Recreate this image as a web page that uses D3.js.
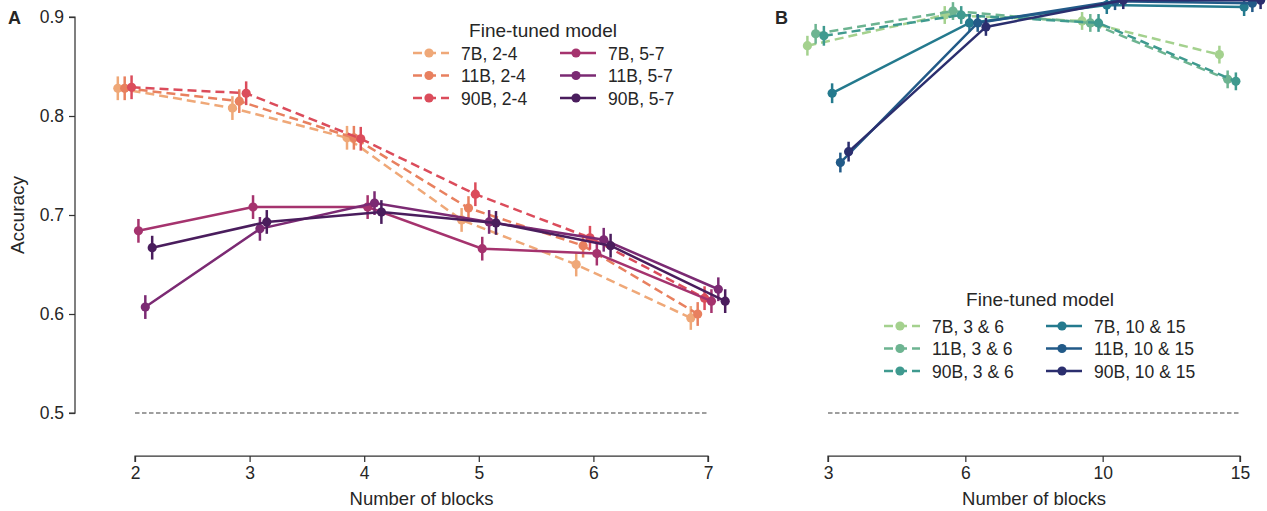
<!DOCTYPE html>
<html><head><meta charset="utf-8">
<script src="https://cdn.jsdelivr.net/npm/d3@7/dist/d3.min.js"></script>
<style>
html,body{margin:0;padding:0;background:#fff;}
svg text{font-family:"Liberation Sans",Arial,sans-serif;fill:#262626;}
</style></head>
<body><svg id="c" width="1267" height="511"></svg>
<script>
// ---------- data ----------
const blocksA = [2, 3, 4, 5, 6, 7];
const seriesA = ["7B, 2-4", "11B, 2-4", "90B, 2-4", "7B, 5-7", "11B, 5-7", "90B, 5-7"];
const acc_7B_24  = [0.828, 0.808, 0.778, 0.695, 0.650, 0.596];
const acc_11B_24 = [0.828, 0.815, 0.778, 0.707, 0.669, 0.600];
const acc_90B_24 = [0.829, 0.823, 0.777, 0.721, 0.677, 0.616];
const acc_7B_57  = [0.684, 0.708, 0.708, 0.666, 0.661, 0.613];
const acc_11B_57 = [0.607, 0.686, 0.712, 0.693, 0.675, 0.625];
const acc_90B_57 = [0.667, 0.693, 0.703, 0.692, 0.669, 0.613];
const err_A = [0.012, 0.012, 0.012, 0.012, 0.012, 0.012];

const blocksB = [3, 6, 10, 15];
const seriesB = ["7B, 3 & 6", "11B, 3 & 6", "90B, 3 & 6", "7B, 10 & 15", "11B, 10 & 15", "90B, 10 & 15"];
const acc_7B_36    = [0.871, 0.902, 0.896, 0.862];
const acc_11B_36   = [0.883, 0.906, 0.894, 0.837];
const acc_90B_36   = [0.881, 0.902, 0.894, 0.835];
const acc_7B_1015  = [0.823, 0.894, 0.912, 0.910];
const acc_11B_1015 = [0.753, 0.894, 0.916, 0.914];
const acc_90B_1015 = [0.764, 0.890, 0.917, 0.917];
const err_B = [0.010, 0.009, 0.009, 0.009];

const yTicks = [0.5, 0.6, 0.7, 0.8, 0.9];
const chance = 0.5;

const colorsA = ["#efa878", "#e8805f", "#db4c5b", "#a5336e", "#7b2a73", "#4a1d5d"];
const colorsB = ["#a4d18e", "#6db491", "#3f9a8f", "#247a8e", "#225a88", "#2b2e6e"];
const dashedA = [true, true, true, false, false, false];

// ---------- setup ----------
const svg = d3.select("#c");
const y = d3.scaleLinear().domain([0.5, 0.9]).range([413, 17]);
const axisY = 456;
const lw = 2.5, rad = 4.6;
const tickFont = 17.5, labelFont = 19;

function panel(cats, vals, errs, colors, dashed, x0, x1, names) {
  const x = d3.scalePoint().domain(cats).range([x0, x1]);
  const step = x.step();
  const n = vals.length;
  const g = svg.append("g");
  g.append("line").attr("x1", x(cats[0])).attr("x2", x(cats[cats.length-1]))
    .attr("y1", y(chance)).attr("y2", y(chance))
    .attr("stroke", "#7f7f7f").attr("stroke-width", 1.3).attr("stroke-dasharray", "4.5,2.5");
  vals.forEach((v, i) => {
    const off = (i - (n - 1) / 2) * 0.06 * step;
    const pts = cats.map((c, j) => [x(c) + off, y(v[j]), v[j], errs[j]]);
    const line = d3.line();
    g.append("path").attr("d", line(pts.map(p => [p[0], p[1]])))
      .attr("fill", "none").attr("stroke", colors[i]).attr("stroke-width", lw)
      .attr("stroke-dasharray", dashed[i] ? "9,5" : null);
    g.selectAll(null).data(pts).enter().append("line")
      .attr("x1", p => p[0]).attr("x2", p => p[0])
      .attr("y1", p => y(p[2] - p[3])).attr("y2", p => y(p[2] + p[3]))
      .attr("stroke", colors[i]).attr("stroke-width", lw);
    g.selectAll(null).data(pts).enter().append("circle")
      .attr("cx", p => p[0]).attr("cy", p => p[1]).attr("r", rad)
      .attr("fill", colors[i]);
  });
  const ax = g.append("g").attr("transform", `translate(0,${axisY})`)
    .call(d3.axisBottom(x).tickSize(6).tickPadding(5));
  ax.select(".domain").attr("stroke", "#333").attr("stroke-width", 1.25)
    .attr("d", `M${x0},6V0H${x1}V6`);
  ax.selectAll(".tick line").attr("stroke", "#333").attr("stroke-width", 1.25);
  ax.selectAll(".tick text").attr("font-size", tickFont).attr("fill", "#262626")
    .style("font-family", '"Liberation Sans",Arial,sans-serif');
  g.append("text").attr("x", (x0 + x1) / 2).attr("y", 505).attr("text-anchor", "middle")
    .attr("font-size", 18.5).text("Number of blocks");
  return g;
}

panel(blocksA, [acc_7B_24, acc_11B_24, acc_90B_24, acc_7B_57, acc_11B_57, acc_90B_57],
  err_A, colorsA, dashedA, 135, 708, seriesA);
panel(blocksB, [acc_7B_36, acc_11B_36, acc_90B_36, acc_7B_1015, acc_11B_1015, acc_90B_1015],
  err_B, colorsB, dashedA, 828, 1240, seriesB);

const ay = svg.append("g").attr("transform", "translate(75,0)")
  .call(d3.axisLeft(y).tickValues(yTicks).tickFormat(d3.format(".1f")).tickSize(6).tickPadding(5));
ay.select(".domain").attr("stroke", "#333").attr("stroke-width", 1.25)
  .attr("d", `M-6,${y(0.9)}H0V${y(0.5)}H-6`);
ay.selectAll(".tick line").attr("stroke", "#333").attr("stroke-width", 1.25);
ay.selectAll(".tick text").attr("font-size", tickFont).attr("fill", "#262626")
  .style("font-family", '"Liberation Sans",Arial,sans-serif');
svg.append("text").attr("transform", `translate(24,${(y(0.5)+y(0.9))/2}) rotate(-90)`)
  .attr("text-anchor", "middle").attr("font-size", labelFont).text("Accuracy");

svg.append("text").attr("x", 8).attr("y", 24).attr("font-size", 18).attr("font-weight", "bold").text("A");
svg.append("text").attr("x", 775).attr("y", 24).attr("font-size", 18).attr("font-weight", "bold").text("B");

function legend(names, colors, dashed, cx, titleY, rowY0, col1, col2) {
  const g = svg.append("g");
  g.append("text").attr("x", cx).attr("y", titleY).attr("text-anchor", "middle")
    .attr("font-size", labelFont).text("Fine-tuned model");
  names.forEach((nm, i) => {
    const col = i < 3 ? col1 : col2;
    const yy = rowY0 + (i % 3) * 22.5;
    g.append("line").attr("x1", col).attr("x2", col + 36).attr("y1", yy).attr("y2", yy)
      .attr("stroke", colors[i]).attr("stroke-width", lw)
      .attr("stroke-dasharray", dashed[i] ? "9,5" : null);
    g.append("circle").attr("cx", col + 16).attr("cy", yy).attr("r", rad).attr("fill", colors[i]);
    g.append("text").attr("x", col + 48).attr("y", yy + 6.5).attr("font-size", tickFont).text(nm);
  });
}
legend(seriesA, colorsA, dashedA, 543, 37, 53, 413, 560);
legend(seriesB, colorsB, dashedA, 1040, 306, 326, 884, 1046);
</script></body></html>
